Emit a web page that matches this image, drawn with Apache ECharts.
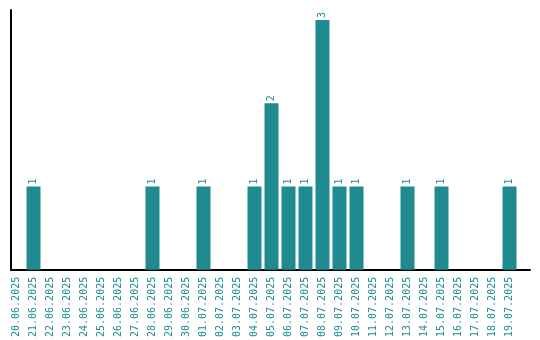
<!DOCTYPE html>
<html>
<head>
<meta charset="utf-8">
<script src="https://cdn.jsdelivr.net/npm/echarts@6/dist/echarts.min.js"></script>
<style>html,body{margin:0;padding:0;background:#fff}#c{width:540px;height:340px}</style>
</head>
<body>
<div id="c"></div>
<script>
var categories = ["20.06.2025","21.06.2025","22.06.2025","23.06.2025","24.06.2025","25.06.2025","26.06.2025","27.06.2025","28.06.2025","29.06.2025","30.06.2025","01.07.2025","02.07.2025","03.07.2025","04.07.2025","05.07.2025","06.07.2025","07.07.2025","08.07.2025","09.07.2025","10.07.2025","11.07.2025","12.07.2025","13.07.2025","14.07.2025","15.07.2025","16.07.2025","17.07.2025","18.07.2025","19.07.2025"];
var values = [0,1,0,0,0,0,0,0,1,0,0,1,0,0,1,2,1,1,3,1,1,0,0,1,0,1,0,0,0,1];

var teal = '#1f8b90';
var chart = echarts.init(document.getElementById('c'));
chart.setOption({
  animation: false,
  backgroundColor: '#fff',
  grid: [
    {left: 8, right: 22, top: 10, bottom: 70, containLabel: false},
    {left: 11, right: 10, top: 10, bottom: 70, containLabel: false}
  ],
  xAxis: [{
    type: 'category',
    gridIndex: 0,
    data: categories,
    boundaryGap: true,
    axisLine: {show: false},
    axisTick: {show: false},
    axisLabel: {rotate: 90, interval: 0, margin: 7, color: teal, fontFamily: 'DejaVu Sans Mono', fontSize: 10}
  }, {
    type: 'value',
    gridIndex: 1,
    min: 0, max: 1,
    axisLine: {show: true, lineStyle: {color: '#000', width: 2}},
    axisTick: {show: false},
    axisLabel: {show: false},
    splitLine: {show: false}
  }],
  yAxis: [{
    type: 'value',
    gridIndex: 0,
    min: 0,
    max: 3.12,
    axisLine: {show: false},
    axisTick: {show: false},
    axisLabel: {show: false},
    splitLine: {show: false}
  }, {
    type: 'value',
    gridIndex: 1,
    min: 0, max: 1,
    axisLine: {show: true, lineStyle: {color: '#000', width: 2}},
    axisTick: {show: false},
    axisLabel: {show: false},
    splitLine: {show: false}
  }],
  series: [{
    type: 'bar',
    xAxisIndex: 0,
    yAxisIndex: 0,
    data: values.map(function(v){ return v === 0 ? null : v; }),
    barWidth: 14,
    itemStyle: {color: teal},
    label: {
      show: true,
      position: 'top',
      rotate: 90,
      align: 'left',
      verticalAlign: 'middle',
      distance: 2,
      color: teal,
      fontFamily: 'DejaVu Sans Mono',
      fontSize: 10
    }
  }]
});
</script>
</body>
</html>
